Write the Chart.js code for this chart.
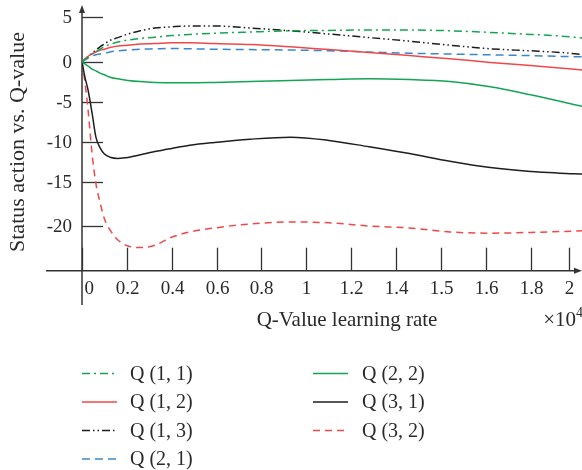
<!DOCTYPE html>
<html>
<head>
<meta charset="utf-8">
<script src="https://cdn.jsdelivr.net/npm/chart.js@4/dist/chart.umd.min.js"></script>
<style>
  html, body { margin: 0; padding: 0; background: #ffffff; }
  #wrap { width: 582px; height: 470px; }
</style>
</head>
<body>
<div id="wrap"><canvas id="c" width="582" height="470"></canvas></div>
<script>
// ---- data (x in units of 10^4) ----
const xValues = [0, 0.013, 0.027, 0.045, 0.062, 0.08, 0.10, 0.125, 0.16, 0.205, 0.26, 0.325, 0.40, 0.48, 0.59, 0.75, 0.93, 1.10, 1.28, 1.46, 1.64, 1.82, 2.0, 2.13, 2.23];
const q11 = [0, 0.3, 0.6, 1.0, 1.3, 1.6, 1.9, 2.2, 2.5, 2.75, 2.95, 3.1, 3.3, 3.45, 3.6, 3.75, 3.9, 3.95, 4.0, 4.0, 3.9, 3.7, 3.45, 3.25, 3.0];
const q12 = [0, 0.375, 0.7, 1.0, 1.25, 1.45, 1.6, 1.8, 2.0, 2.1, 2.25, 2.3, 2.4, 2.4, 2.3, 2.2, 1.9, 1.55, 1.2, 0.8, 0.4, -0.05, -0.45, -0.75, -1.0];
const q13 = [0, 0.35, 0.7, 1.1, 1.5, 1.9, 2.25, 2.7, 3.05, 3.5, 3.9, 4.25, 4.4, 4.5, 4.5, 4.25, 3.9, 3.5, 3.05, 2.6, 2.1, 1.65, 1.4, 1.2, 0.95];
const q21 = [0, 0.25, 0.5, 0.75, 0.9, 1.0, 1.1, 1.25, 1.4, 1.5, 1.6, 1.65, 1.7, 1.65, 1.6, 1.55, 1.5, 1.4, 1.25, 1.1, 1.0, 0.9, 0.8, 0.7, 0.65];
const q22 = [0, -0.25, -0.5, -0.9, -1.1, -1.4, -1.6, -1.9, -2.1, -2.3, -2.45, -2.55, -2.6, -2.6, -2.55, -2.45, -2.3, -2.2, -2.1, -2.2, -2.45, -3.1, -4.1, -4.9, -5.55];
const q31 = [0, -1.9, -3.5, -6.4, -9.4, -10.7, -11.5, -11.9, -12.05, -11.95, -11.6, -11.2, -10.8, -10.4, -10.05, -9.65, -9.4, -9.8, -10.6, -11.45, -12.4, -13.2, -13.7, -13.9, -14.0];
const q32 = [0, -2.5, -6.0, -11.5, -15.2, -17.5, -19.6, -21.0, -22.25, -23.0, -23.2, -22.9, -21.9, -21.25, -20.75, -20.25, -20.0, -20.1, -20.5, -20.75, -21.25, -21.4, -21.3, -21.2, -21.1];

const seriesNames = ['Q (1, 1)', 'Q (1, 2)', 'Q (1, 3)', 'Q (2, 1)', 'Q (2, 2)', 'Q (3, 1)', 'Q (3, 2)'];

const xTickValues = [0, 0.2, 0.4, 0.6, 0.8, 1.0, 1.2, 1.4, 1.6, 1.8, 2.0, 2.17];
const xTickLabels = ['0', '0.2', '0.4', '0.6', '0.8', '1', '1.2', '1.4', '1.5', '1.6', '1.8', '2'];
const yTickValues = [5.625, 0, -5, -10, -15, -20.5];
const yTickLabels = ['5', '0', '-5', '-10', '-15', '-20'];

const xTitle = 'Q-Value learning rate';
const yTitle = 'Status action vs. Q-value';

// ---- styles ----
const GREEN = '#13a553';
const RED = '#f04848';
const BLACK = '#1e1e1e';
const BLUE = '#3a86cc';
const AXIS = '#333333';
const TEXT = '#2a2a2a';
const FONT = '"Liberation Serif", "DejaVu Serif", serif';

function pts(ys) { return xValues.map((x, i) => ({ x: x, y: ys[i] })); }

const styles = [
  { color: GREEN, dash: [8, 4, 2, 4] },
  { color: RED, dash: [] },
  { color: BLACK, dash: [8, 3, 1.5, 3, 1.5, 3] },
  { color: BLUE, dash: [8, 5] },
  { color: GREEN, dash: [] },
  { color: BLACK, dash: [] },
  { color: RED, dash: [7, 5] }
];
const allSeries = [q11, q12, q13, q21, q22, q31, q32];

const datasets = allSeries.map((s, i) => ({
  label: seriesNames[i],
  data: pts(s),
  borderColor: styles[i].color,
  borderDash: styles[i].dash,
  borderWidth: 1.5,
  pointRadius: 0,
  fill: false,
  cubicInterpolationMode: 'monotone'
}));

const axesPlugin = {
  id: 'axesPlugin',
  beforeDatasetsDraw(chart) {
    const ctx = chart.ctx;
    const xs = chart.scales.x, ys = chart.scales.y;
    const y0 = ys.bottom;
    const x0 = xs.left;
    ctx.save();
    ctx.strokeStyle = AXIS;
    ctx.fillStyle = AXIS;
    ctx.lineWidth = 1.5;
    ctx.beginPath();
    ctx.moveTo(46, y0);
    ctx.lineTo(578, y0);
    ctx.stroke();
    ctx.beginPath();
    ctx.moveTo(582, y0);
    ctx.lineTo(574, y0 - 3);
    ctx.lineTo(574, y0 + 3);
    ctx.closePath();
    ctx.fill();
    ctx.beginPath();
    ctx.moveTo(x0, 305);
    ctx.lineTo(x0, 10);
    ctx.stroke();
    ctx.beginPath();
    ctx.moveTo(x0, 5);
    ctx.lineTo(x0 - 3, 13);
    ctx.lineTo(x0 + 3, 13);
    ctx.closePath();
    ctx.fill();
    ctx.lineWidth = 1.3;
    ctx.font = '19px ' + FONT;
    ctx.fillStyle = TEXT;
    ctx.textBaseline = 'alphabetic';
    xTickValues.forEach((v, i) => {
      const px = Math.round(xs.getPixelForValue(v)) + 0.5;
      ctx.beginPath();
      ctx.moveTo(px, y0);
      ctx.lineTo(px, y0 - 23);
      ctx.stroke();
      if (i === 0) {
        ctx.textAlign = 'left';
        ctx.fillText(xTickLabels[i], px + 2, 294);
      } else {
        ctx.textAlign = 'center';
        ctx.fillText(xTickLabels[i], px, 294);
      }
    });
    ctx.textAlign = 'right';
    ctx.textBaseline = 'middle';
    yTickValues.forEach((v, i) => {
      const py = Math.round(ys.getPixelForValue(v)) + 0.5;
      ctx.beginPath();
      ctx.moveTo(x0, py);
      ctx.lineTo(x0 + 21, py);
      ctx.stroke();
      ctx.fillText(yTickLabels[i], 72, py + 1);
    });
    ctx.font = '21px ' + FONT;
    ctx.textAlign = 'center';
    ctx.textBaseline = 'alphabetic';
    ctx.fillText(xTitle, 347, 326);
    ctx.textAlign = 'right';
    ctx.fillText('\u00d710', 576, 326);
    ctx.font = '14px ' + FONT;
    ctx.textAlign = 'left';
    ctx.fillText('4', 576, 317);
    ctx.save();
    ctx.translate(24, 142);
    ctx.rotate(-Math.PI / 2);
    ctx.font = '22px ' + FONT;
    ctx.textAlign = 'center';
    ctx.textBaseline = 'alphabetic';
    ctx.fillText(yTitle, 0, 0);
    ctx.restore();
    ctx.restore();
  },
  afterDraw(chart) {
    const ctx = chart.ctx;
    const rows = [373.5, 402, 430.5, 459];
    const cols = [{ lx: 82, tx: 130 }, { lx: 313, tx: 362 }];
    ctx.save();
    chart.data.datasets.forEach((ds, i) => {
      const col = i < 4 ? cols[0] : cols[1];
      const row = i < 4 ? rows[i] : rows[i - 4];
      ctx.strokeStyle = ds.borderColor;
      ctx.lineWidth = 1.5;
      ctx.setLineDash(ds.borderDash || []);
      ctx.beginPath();
      ctx.moveTo(col.lx, row);
      ctx.lineTo(col.lx + 35, row);
      ctx.stroke();
      ctx.setLineDash([]);
      ctx.fillStyle = TEXT;
      ctx.font = '20px ' + FONT;
      ctx.textAlign = 'left';
      ctx.textBaseline = 'middle';
      ctx.fillText(ds.label, col.tx, row + 1);
    });
    ctx.restore();
  }
};

new Chart(document.getElementById('c'), {
  type: 'line',
  data: { datasets: datasets },
  options: {
    responsive: false,
    animation: false,
    devicePixelRatio: 1,
    layout: { padding: { left: 82, right: 0, top: 14, bottom: 199.3 } },
    plugins: { legend: { display: false }, tooltip: { enabled: false } },
    scales: {
      x: { type: 'linear', min: 0, max: 2.229, display: false },
      y: { type: 'linear', min: -26.09, max: 6.0, display: false }
    }
  },
  plugins: [axesPlugin]
});
</script>
</body>
</html>
